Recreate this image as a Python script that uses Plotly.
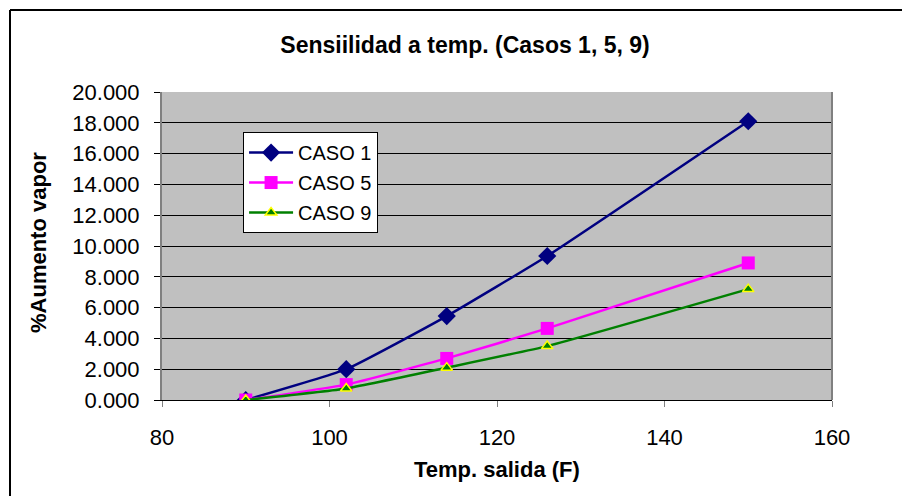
import plotly.graph_objects as go

temps = [90, 102, 114, 126, 150]
caso1 = [0.0, 2.0, 5.45, 9.35, 18.1]
caso5 = [0.0, 1.0, 2.7, 4.65, 8.9]
caso9 = [0.0, 0.75, 2.1, 3.5, 7.2]
y_ticks = [0, 2, 4, 6, 8, 10, 12, 14, 16, 18, 20]
x_ticks = [80, 100, 120, 140, 160]

FONT = "Liberation Sans, Arial, sans-serif"

fig = go.Figure()
fig.add_trace(go.Scatter(
    x=temps, y=caso1, name="CASO 1", legendgroup="a", mode="lines+markers",
    line=dict(color="#000080", width=2.5, shape="spline", smoothing=0.4),
    marker=dict(symbol="diamond", size=14, color="#000080", line=dict(width=0))))
fig.add_trace(go.Scatter(
    x=temps, y=caso5, name="CASO 5", legendgroup="b", mode="lines+markers",
    line=dict(color="#FF00FF", width=2.5, shape="spline", smoothing=0.4),
    marker=dict(symbol="square", size=13, color="#FF00FF", line=dict(width=0))))
fig.add_trace(go.Scatter(
    x=temps, y=caso9, name="CASO 9", legendgroup="c", mode="lines+markers",
    line=dict(color="#008000", width=2.5, shape="spline", smoothing=0.4),
    marker=dict(symbol="triangle-up", size=10, color="#008000", line=dict(width=1.5, color="#FFFF00"))))

fig.update_layout(
    width=902, height=496,
    margin=dict(l=162, r=70, t=92, b=96),
    paper_bgcolor="white", plot_bgcolor="#C0C0C0",
    font=dict(family=FONT, size=20, color="black"),
    showlegend=True,
    legend=dict(x=0.121, y=0.87, xanchor="left", yanchor="top",
                bgcolor="white", bordercolor="black", borderwidth=1,
                font=dict(size=20), tracegroupgap=1, itemwidth=44),
    xaxis=dict(range=[80, 160], tickvals=x_ticks, ticks="outside", ticklen=6,
               tickcolor="#808080", showgrid=False, zeroline=False,
               showline=True, linecolor="black", linewidth=1, mirror=False,
               ticklabelstandoff=12, tickfont=dict(size=22)),
    yaxis=dict(range=[0, 20], tickvals=y_ticks, tickformat=".3f", ticks="outside",
               ticklen=6, tickcolor="black", showgrid=True, gridcolor="black",
               gridwidth=1, zeroline=False, showline=True, linecolor="#808080",
               linewidth=2, ticklabelstandoff=10, tickfont=dict(size=22)),
    title=dict(text="<b>Sensiilidad a temp. (Casos 1, 5, 9)</b>", x=465 / 902,
               xanchor="center", y=1 - 45 / 496, yanchor="middle",
               font=dict(size=23, family=FONT)),
    annotations=[
        dict(text="<b>Temp. salida (F)</b>", xref="paper", yref="paper",
             x=(497 - 162) / 670, y=(400 - 469) / 308, xanchor="center", yanchor="middle",
             showarrow=False, font=dict(size=22, family=FONT)),
        dict(text="<b>%Aumento vapor</b>", xref="paper", yref="paper",
             x=(38 - 162) / 670, y=(400 - 243) / 308, xanchor="center", yanchor="middle",
             textangle=-90, showarrow=False, font=dict(size=22, family=FONT)),
    ],
    shapes=[
        dict(type="line", xref="paper", yref="paper", x0=(10 - 162) / 670, x1=(910 - 162) / 670,
             y0=(400 - 10) / 308, y1=(400 - 10) / 308, line=dict(color="black", width=2)),
        dict(type="line", xref="paper", yref="paper", x0=(10 - 162) / 670, x1=(10 - 162) / 670,
             y0=(400 - 10) / 308, y1=(400 - 510) / 308, line=dict(color="black", width=2)),
        dict(type="line", xref="paper", yref="paper", x0=1, x1=1, y0=0, y1=1,
             line=dict(color="#808080", width=2)),
    ],
)

fig.write_html("out.html")
